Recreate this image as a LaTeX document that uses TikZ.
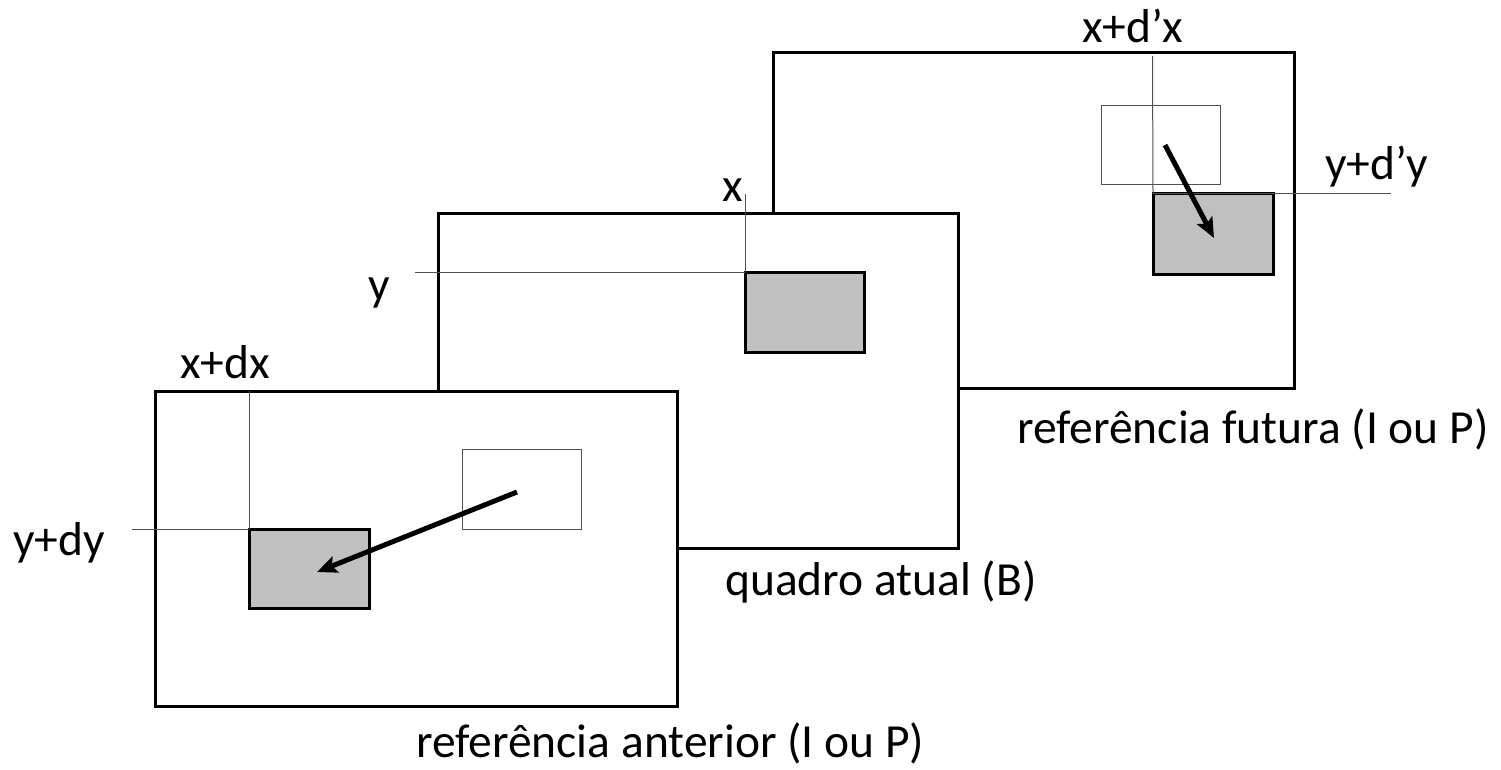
\documentclass[tikz,border=0pt]{standalone}
\usepackage{fontspec}
\setmainfont{Carlito}
\usetikzlibrary{arrows.meta}
\definecolor{boxgray}{RGB}{192,192,192}
\definecolor{thinline}{RGB}{80,80,80}
\tikzset{
  frame/.style={draw=black, fill=white, line width=3pt, rectangle, inner sep=0pt, outer sep=0pt},
  block/.style={draw=black, fill=boxgray, line width=3pt, rectangle, inner sep=0pt, outer sep=0pt},
  oldblock/.style={draw=thinline, line width=1pt, rectangle, inner sep=0pt, outer sep=0pt},
  guide/.style={draw=thinline, line width=1pt},
  motion/.style={line width=5pt, -{Stealth[length=20pt,width=17pt,inset=4pt]}},
  lbl/.style={inner sep=0pt, anchor=base west, font=\fontsize{47.5}{57}\selectfont}
}
\begin{document}
\begin{tikzpicture}[x=1pt,y=-1pt]
\useasboundingbox (0,0) rectangle (1501,770);
% frames (back to front)
\node[frame, minimum width=521pt, minimum height=335pt] (fC) at (1033.5,220.5) {};
\node[frame, minimum width=520pt, minimum height=335pt] (fB) at (698,380.5) {};
\node[frame, minimum width=522pt, minimum height=315pt] (fA) at (416,548.5) {};
% future reference
\node[oldblock, minimum width=119pt, minimum height=79pt] (oC) at (1160.5,145.5) {};
\node[block, minimum width=120pt, minimum height=80pt] (gC) at (1213,234) {};
\coordinate (cxt) at (1152.5,56);
\coordinate (cye) at (1391,194);
\draw[guide] (cxt) -- (gC.north west);
\draw[guide] (gC.north west) -- (cye);
\coordinate (cs) at (1165,145);
\coordinate (ce) at (1214,238);
\draw[motion] (cs) -- (ce);
% current frame
\node[block, minimum width=119pt, minimum height=80pt] (gB) at (804.5,312) {};
\coordinate (bxt) at (745,194);
\coordinate (bys) at (415,272);
\draw[guide] (bxt) -- (gB.north west);
\draw[guide] (bys) -- (gB.north west);
% previous reference
\node[oldblock, minimum width=119pt, minimum height=80pt] (oA) at (521.5,489) {};
\node[block, minimum width=120pt, minimum height=79pt] (gA) at (309,568.5) {};
\coordinate (axt) at (249,391);
\coordinate (ays) at (132,529);
\draw[guide] (axt) -- (gA.north west);
\draw[guide] (ays) -- (gA.north west);
\coordinate (as) at (517,492);
\coordinate (ae) at (317,572);
\draw[motion] (as) -- (ae);
% labels
\node[lbl] (lx) at (722,202) {x};
\node[lbl] (ly) at (368,300) {y};
\node[lbl] (lxdx) at (180,378) {x+dx};
\node[lbl] (lydy) at (13,555) {y+dy};
\node[lbl] (lxdpx) at (1082,43) {x+d’x};
\node[lbl] (lydpy) at (1325,180) {y+d’y};
\node[lbl] (lB) at (725,595) {quadro atual (B)};
\node[lbl] (lA) at (416,757) {referência anterior (I ou P)};
\node[lbl] (lC) at (1017,443) {referência futura (I ou P)};
\end{tikzpicture}
\end{document}
